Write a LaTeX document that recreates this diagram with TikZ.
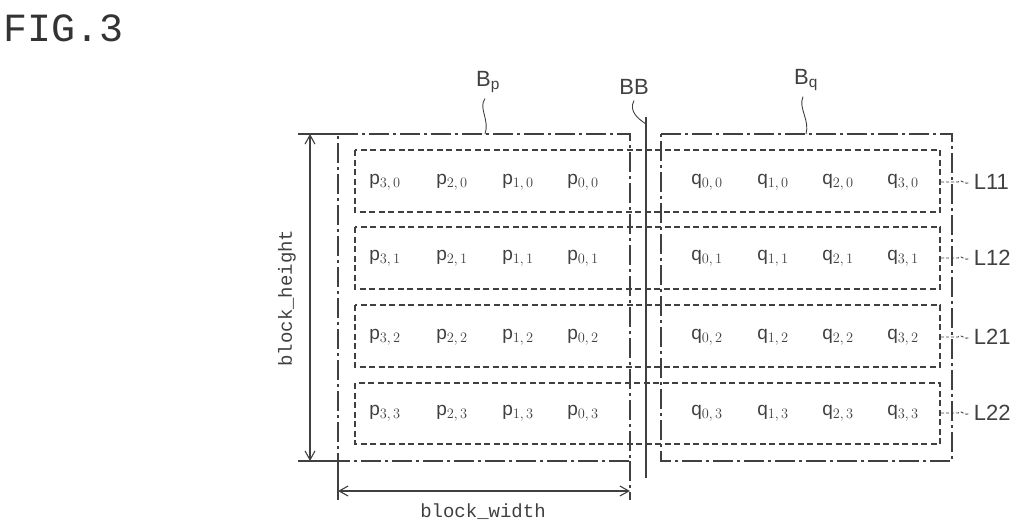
\documentclass[tikz,border=0pt]{standalone}
\usepackage{fontspec}
\setmainfont{Liberation Sans}
\newfontfamily\monof{Liberation Mono}
\usetikzlibrary{arrows.meta}
\begin{document}
\begin{tikzpicture}[x=1pt,y=-1pt,line width=1.1pt,draw=black!75,
  outer/.style={dash pattern=on 20pt off 4pt on 3pt off 4pt},
  row/.style={dash pattern=on 6pt off 3.5pt},
  cell/.style={font=\fontsize{19}{19}\selectfont,text=black!75},
  lab/.style={font=\fontsize{22}{22}\selectfont,text=black!75},
  lead/.style={line width=0.9pt,dash pattern=on 3pt off 2pt},
  dim/.style={{Straight Barb[length=9pt,width=10pt]}-{Straight Barb[length=9pt,width=10pt]}}]
\useasboundingbox (0,0) rectangle (1024,532);
\node[anchor=west,font=\monof\fontsize{40}{40}\selectfont,text=black!80] (fig) at (0,28) {FIG.3};
% outer blocks
\draw[outer] (338,134) -- (630,134) -- (630,461) -- (338,461) -- cycle;
\draw[outer] (661,134) -- (952,134) -- (952,461) -- (661,461) -- cycle;
\coordinate (bbt) at (646,117); \coordinate (bbb) at (646,478);
\draw (bbt) -- (bbb);
% rows
\foreach \t/\b in {150/212,227/289,305/367,383/444}{
  \draw[row] (355,\t) rectangle (940,\b);}
\foreach \j/\y in {0/182,1/258,2/337,3/413}{
  \foreach \i/\x in {3/385,2/452,1/518,0/583}{
    \node[cell] (p\i\j) at (\x,\y) {p$_{\i,\,\j}$};}
  \foreach \i/\x in {0/707,1/773,2/838,3/903}{
    \node[cell] (q\i\j) at (\x,\y) {q$_{\i,\,\j}$};}
}
\foreach \n/\y in {L11/182,L12/258,L21/337,L22/413}{
  \node[lab,anchor=west] (\n) at (970,\y) {\n};
  \draw[lead] (941,\y) -- (958,\y) .. controls (962,\y-4) and (964,\y+4) .. (\n.west);}
% labels B
\node[lab] (Bp) at (488,82) {B$_{\mathrm{p}}$};
\node[lab] (BB) at (634,87) {BB};
\node[lab] (Bq) at (806,80) {B$_{\mathrm{q}}$};
\draw[line width=0.9pt] (Bp.south) ++(-3,2) .. controls (478,108) and (490,120) .. (485,134);
\draw[line width=0.9pt] (BB.south) ++(0,2) .. controls (628,112) and (640,120) .. (646,124);
\draw[line width=0.9pt] (Bq.south) ++(-3,2) .. controls (798,108) and (810,120) .. (806,134);
% dimension block_height
\coordinate (ht) at (298,134); \coordinate (hb) at (298,461);
\draw (ht) -- (338,134); \draw (hb) -- (338,461);
\draw[dim] (310,134) -- (310,461);
\node[font=\monof\fontsize{19}{19}\selectfont,text=black!75,rotate=90] (bh) at (287,298) {block\_height};
% dimension block_width
\draw (338,461) -- (338,500);
\draw[outer] (630,461) -- (630,500);
\draw[dim] (338,491) -- (630,491);
\node[font=\monof\fontsize{19}{19}\selectfont,text=black!75] (bw) at (483,512) {block\_width};
\end{tikzpicture}
\end{document}
